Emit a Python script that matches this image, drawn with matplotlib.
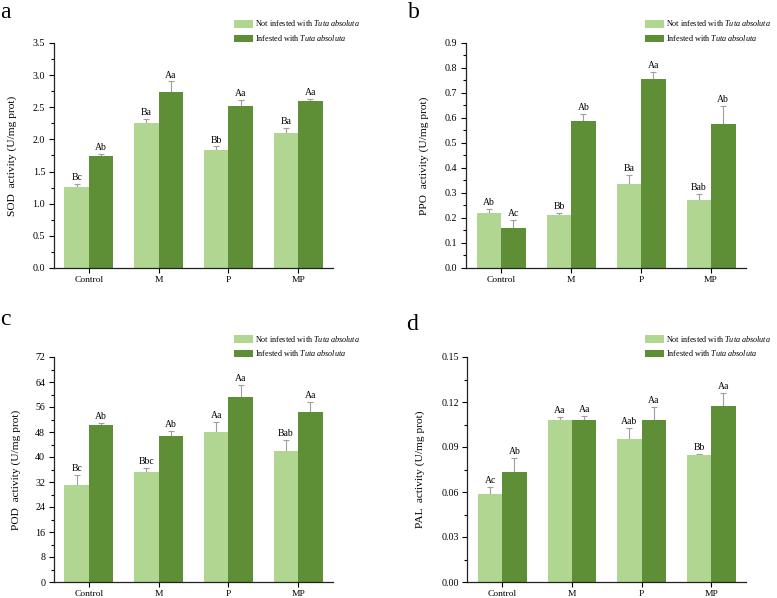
import numpy as np
import matplotlib
matplotlib.use("Agg")
import matplotlib.pyplot as plt
from matplotlib.ticker import MultipleLocator, FormatStrFormatter

plt.rcParams["font.family"] = ["Liberation Serif", "DejaVu Serif"]
plt.rcParams["mathtext.fontset"] = "custom"
plt.rcParams["mathtext.rm"] = "Liberation Serif"
plt.rcParams["mathtext.it"] = "Liberation Serif:italic"

# treatments on the x axis
groups = ["Control", "M", "P", "MP"]

# SOD (panel a)
sod_not = [1.265, 2.255, 1.84, 2.10]
sod_not_err = [0.045, 0.065, 0.05, 0.08]
sod_inf = [1.737, 2.737, 2.52, 2.59]
sod_inf_err = [0.035, 0.165, 0.09, 0.04]
sod_not_lab = ["Bc", "Ba", "Bb", "Ba"]
sod_inf_lab = ["Ab", "Aa", "Aa", "Aa"]

# PPO (panel b)
ppo_not = [0.22, 0.213, 0.337, 0.273]
ppo_not_err = [0.016, 0.007, 0.036, 0.024]
ppo_inf = [0.16, 0.588, 0.756, 0.577]
ppo_inf_err = [0.033, 0.027, 0.029, 0.072]
ppo_not_lab = ["Ab", "Bb", "Ba", "Bab"]
ppo_inf_lab = ["Ac", "Ab", "Aa", "Ab"]

# POD (panel c)
pod_not = [31.0, 35.3, 48.1, 41.8]
pod_not_err = [3.4, 1.2, 3.2, 3.6]
pod_inf = [50.4, 46.7, 59.3, 54.5]
pod_inf_err = [0.6, 1.6, 3.7, 3.1]
pod_not_lab = ["Bc", "Bbc", "Aa", "Bab"]
pod_inf_lab = ["Ab", "Ab", "Aa", "Aa"]

# PAL (panel d)
pal_not = [0.0589, 0.108, 0.0956, 0.0849]
pal_not_err = [0.0044, 0.002, 0.0073, 0.0007]
pal_inf = [0.0733, 0.108, 0.108, 0.1173]
pal_inf_err = [0.0094, 0.0027, 0.0087, 0.0089]
pal_not_lab = ["Ac", "Aa", "Aab", "Bb"]
pal_inf_lab = ["Ab", "Aa", "Aa", "Aa"]

light = "#b0d691"
dark = "#5e8e36"
err_col = "#9f9f9f"
W, H = 777, 598


def draw_panel(ax, not_vals, not_err, inf_vals, inf_err, not_lab, inf_lab,
               ymax, major, fmt, ylabel, label_x, leg_xy, letter, letter_xy):
    x = np.arange(len(groups))
    bw = 0.35
    span = ymax
    for off, vals, errs, labs, col, name in [
        (-bw / 2, not_vals, not_err, not_lab, light,
         "Not infested with $\\mathit{Tuta\\ absoluta}$"),
        (bw / 2, inf_vals, inf_err, inf_lab, dark,
         "Infested with $\\mathit{Tuta\\ absoluta}$"),
    ]:
        ax.bar(x + off, vals, bw, color=col, label=name, zorder=2)
        ax.errorbar(x + off, vals, yerr=[np.zeros(len(vals)), errs], fmt="none",
                    ecolor=err_col, elinewidth=0.8, capsize=2.5, capthick=0.8,
                    zorder=1)
        for xi, v, e, t in zip(x + off, vals, errs, labs):
            ax.text(xi, v + e + span * 0.008, t, ha="center", va="bottom",
                    fontsize=7)

    ax.set_xlim(-0.507, 3.5)
    ax.set_ylim(0, ymax)
    ax.set_xticks(x)
    ax.set_xticklabels(groups, fontsize=6.8)
    ax.yaxis.set_major_locator(MultipleLocator(major))
    ax.yaxis.set_minor_locator(MultipleLocator(major / 2))
    ax.yaxis.set_major_formatter(FormatStrFormatter(fmt))
    ax.tick_params(axis="both", which="major", direction="out", length=3.5,
                   width=0.8, pad=2.5)
    ax.tick_params(axis="y", which="major", labelsize=7.2)
    ax.tick_params(axis="y", which="minor", direction="out", length=2,
                   width=0.8)
    for s in ["top", "right"]:
        ax.spines[s].set_visible(False)
    for s in ["left", "bottom"]:
        ax.spines[s].set_linewidth(0.9)
        ax.spines[s].set_color("#222222")
    ax.set_ylabel(ylabel, fontsize=8.2)
    ax.yaxis.set_label_coords(label_x, 0.5)

    ax.legend(loc="upper left", bbox_to_anchor=(leg_xy[0] / W, 1 - leg_xy[1] / H),
              bbox_transform=fig.transFigure, frameon=False, fontsize=5.9,
              handlelength=2.3, handleheight=1.1, labelspacing=0.58,
              handletextpad=0.3, borderpad=0, borderaxespad=0)
    fig.text(letter_xy[0] / W, 1 - letter_xy[1] / H, letter, fontsize=17,
             va="baseline", ha="left")


fig = plt.figure(figsize=(W / 100, H / 100), dpi=100)
ax_a = fig.add_axes([53.5 / W, 1 - 268 / H, 279.5 / W, 225 / H])
ax_b = fig.add_axes([465.7 / W, 1 - 268 / H, 280.3 / W, 225 / H])
ax_c = fig.add_axes([53.5 / W, 1 - 582 / H, 279.5 / W, 225 / H])
ax_d = fig.add_axes([467 / W, 1 - 582 / H, 279 / W, 225 / H])

draw_panel(ax_a, sod_not, sod_not_err, sod_inf, sod_inf_err, sod_not_lab,
           sod_inf_lab, 3.5, 0.5, "%.1f", "SOD  activity (U/mg prot)", -0.13,
           (234, 18.5), "a", (0, 18))
draw_panel(ax_b, ppo_not, ppo_not_err, ppo_inf, ppo_inf_err, ppo_not_lab,
           ppo_inf_lab, 0.9, 0.1, "%.1f", "PPO  activity (U/mg prot)", -0.13,
           (645, 18.5), "b", (408, 18))
draw_panel(ax_c, pod_not, pod_not_err, pod_inf, pod_inf_err, pod_not_lab,
           pod_inf_lab, 72, 8, "%d", "POD  activity (U/mg prot)", -0.115,
           (234, 333.5), "c", (0, 325))
draw_panel(ax_d, pal_not, pal_not_err, pal_inf, pal_inf_err, pal_not_lab,
           pal_inf_lab, 0.15, 0.03, "%.2f", "PAL  activity (U/mg prot)", -0.15,
           (645, 333.5), "d", (406, 330))

fig.savefig("out.png", dpi=100)
